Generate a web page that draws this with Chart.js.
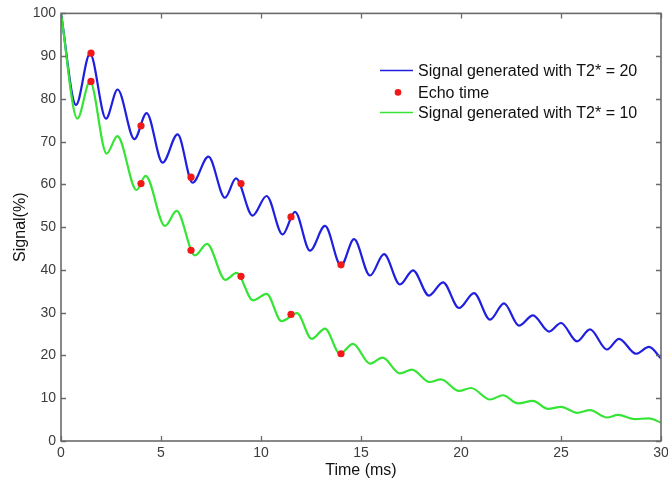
<!DOCTYPE html>
<html>
<head>
<meta charset="utf-8">
<script src="https://cdn.jsdelivr.net/npm/chart.js@4.4.1/dist/chart.umd.min.js"></script>
<style>
  html, body { margin: 0; padding: 0; background: #fff; }
  #wrap { width: 668px; height: 482px; }
</style>
</head>
<body>
<div id="wrap"><canvas id="decayChart"></canvas></div>
<script>
// Blue trace, T2* = 20: turning points of the oscillation (time in ms, signal in %)
const blueT = [0, 0.75, 1.45, 2.25, 2.83, 3.67, 4.28, 5.08, 5.83, 6.58, 7.37, 8.2, 8.75, 9.58, 10.28, 11.08, 11.7, 12.45, 13.2, 14.0, 14.65, 15.45, 16.15, 16.95, 17.6, 18.4, 19.1, 19.9, 20.65, 21.45, 22.15, 22.9, 23.6, 24.4, 25.0, 25.8, 26.45, 27.3, 27.9, 28.75, 29.4, 30];
const blueS = [100, 78.6, 90.6, 75.4, 82.2, 70.6, 76.7, 65.1, 71.7, 60.4, 66.5, 56.9, 61.4, 52.7, 57.3, 48.3, 53.6, 44.5, 50.3, 41.0, 47.2, 38.7, 43.7, 36.6, 39.9, 34.0, 37.1, 31.1, 34.6, 28.4, 32.2, 27.0, 29.4, 25.6, 27.6, 23.3, 26.1, 21.4, 23.9, 20.4, 22.0, 19.3];

// Green trace, T2* = 10
const greenT = [0, 0.82, 1.45, 2.28, 2.82, 3.78, 4.23, 5.2, 5.78, 6.7, 7.3, 8.22, 8.78, 9.6, 10.28, 11.03, 11.8, 12.53, 13.2, 13.95, 14.6, 15.45, 16.08, 16.95, 17.55, 18.42, 19.0, 19.9, 20.5, 21.45, 22.1, 22.85, 23.6, 24.35, 25.0, 25.8, 26.45, 27.3, 27.85, 28.7, 29.4, 30];
const greenS = [100, 75.4, 84.1, 67.2, 71.3, 58.7, 62.0, 50.3, 53.8, 43.4, 46.1, 37.7, 39.3, 32.9, 34.4, 28.0, 29.9, 23.9, 26.3, 20.4, 22.7, 18.1, 19.5, 15.8, 16.7, 13.8, 14.4, 11.7, 12.4, 9.7, 10.7, 8.8, 9.4, 7.5, 8.0, 6.6, 7.2, 5.5, 6.1, 5.1, 5.3, 4.3];

// Echo times and the sampled signal on each trace
const echoT = [1.5, 4, 6.5, 9, 11.5, 14];
const echoBlue = [90.7, 73.7, 61.7, 60.2, 52.4, 41.2];
const echoGreen = [84.1, 60.2, 44.6, 38.5, 29.6, 20.4];

const xTicks = [0, 5, 10, 15, 20, 25, 30];
const yTicks = [0, 10, 20, 30, 40, 50, 60, 70, 80, 90, 100];

const FONT = "'Liberation Sans', Arial, Helvetica, sans-serif";
const AXIS_GREY = '#6b6b6b';
const TEXT_GREY = '#3c3c3c';

const toPoints = (xs, ys) => xs.map((x, i) => ({ x: x, y: ys[i] }));

// MATLAB-style frame: full box with inward tick marks on all four sides
const framePlugin = {
  id: 'frame',
  afterDraw(chart) {
    const { ctx, chartArea: a, scales } = chart;
    const len = 5;
    ctx.save();
    ctx.strokeStyle = AXIS_GREY;
    ctx.lineWidth = 1.3;
    ctx.beginPath();
    xTicks.forEach(v => {
      const px = Math.round(scales.x.getPixelForValue(v)) + 0.5;
      ctx.moveTo(px, a.bottom); ctx.lineTo(px, a.bottom - len);
      ctx.moveTo(px, a.top); ctx.lineTo(px, a.top + len);
    });
    yTicks.forEach(v => {
      const py = Math.round(scales.y.getPixelForValue(v)) + 0.5;
      ctx.moveTo(a.left, py); ctx.lineTo(a.left + len, py);
      ctx.moveTo(a.right, py); ctx.lineTo(a.right - len, py);
    });
    ctx.stroke();
    ctx.lineWidth = 1.6;
    ctx.strokeRect(a.left, a.top, a.right - a.left, a.bottom - a.top);
    ctx.restore();
  }
};

// Legend sits inside the axes, top right, without a box
const legendPlugin = {
  id: 'insideLegend',
  afterDatasetsDraw(chart) {
    const { ctx, chartArea: a } = chart;
    const x0 = a.right - 281;
    const rows = [57, 79, 99];
    ctx.save();
    ctx.font = '16px ' + FONT;
    ctx.textBaseline = 'middle';
    ctx.textAlign = 'left';
    chart.data.datasets.forEach((ds, i) => {
      const y = a.top + rows[i];
      if (ds.showLine) {
        ctx.strokeStyle = ds.borderColor;
        ctx.lineWidth = 1.5;
        ctx.beginPath();
        ctx.moveTo(x0, y); ctx.lineTo(x0 + 33, y);
        ctx.stroke();
      } else {
        ctx.fillStyle = ds.backgroundColor;
        ctx.beginPath();
        ctx.arc(x0 + 18, y, 3.3, 0, Math.PI * 2);
        ctx.fill();
      }
      ctx.fillStyle = '#111';
      ctx.fillText(ds.label, x0 + 38, y + 1);
    });
    ctx.restore();
  }
};

const config = {
  type: 'scatter',
  data: {
    datasets: [
      {
        label: 'Signal generated with T2* = 20',
        data: toPoints(blueT, blueS),
        showLine: true,
        borderColor: '#1f1fe0',
        borderWidth: 2.2,
        pointRadius: 0,
        cubicInterpolationMode: 'monotone',
        order: 3
      },
      {
        label: 'Echo time',
        data: toPoints(echoT, echoBlue).concat(toPoints(echoT, echoGreen)),
        showLine: false,
        backgroundColor: '#f01818',
        borderColor: '#f01818',
        pointRadius: 3.6,
        borderWidth: 0,
        order: 1
      },
      {
        label: 'Signal generated with T2* = 10',
        data: toPoints(greenT, greenS),
        showLine: true,
        borderColor: '#36e436',
        borderWidth: 2.2,
        pointRadius: 0,
        cubicInterpolationMode: 'monotone',
        order: 2
      }
    ]
  },
  options: {
    responsive: true,
    maintainAspectRatio: false,
    animation: false,
    layout: { padding: { top: 12, right: 7, bottom: 0, left: 0 } },
    plugins: {
      legend: { display: false },
      tooltip: { enabled: false }
    },
    scales: {
      x: {
        type: 'linear',
        min: 0,
        max: 30,
        afterBuildTicks: s => { s.ticks = xTicks.map(v => ({ value: v })); },
        afterFit: s => { s.height = 41; s.paddingLeft = 0; s.paddingRight = 0; },
        grid: { display: false, drawTicks: false },
        border: { display: false },
        ticks: { color: TEXT_GREY, font: { family: FONT, size: 14 }, padding: 4, maxRotation: 0 },
        title: { display: true, text: 'Time (ms)', color: '#111', font: { family: FONT, size: 16 }, padding: { top: 0, bottom: 2 } }
      },
      y: {
        type: 'linear',
        min: 0,
        max: 100,
        afterBuildTicks: s => { s.ticks = yTicks.map(v => ({ value: v })); },
        afterFit: s => { s.width = 61; },
        grid: { display: false, drawTicks: false },
        border: { display: false },
        ticks: { color: TEXT_GREY, font: { family: FONT, size: 14 }, padding: 5 },
        title: { display: true, text: 'Signal(%)', color: '#111', font: { family: FONT, size: 16 }, padding: { top: 11, bottom: 0 } }
      }
    }
  },
  plugins: [framePlugin, legendPlugin]
};

new Chart(document.getElementById('decayChart'), config);
</script>
</body>
</html>
